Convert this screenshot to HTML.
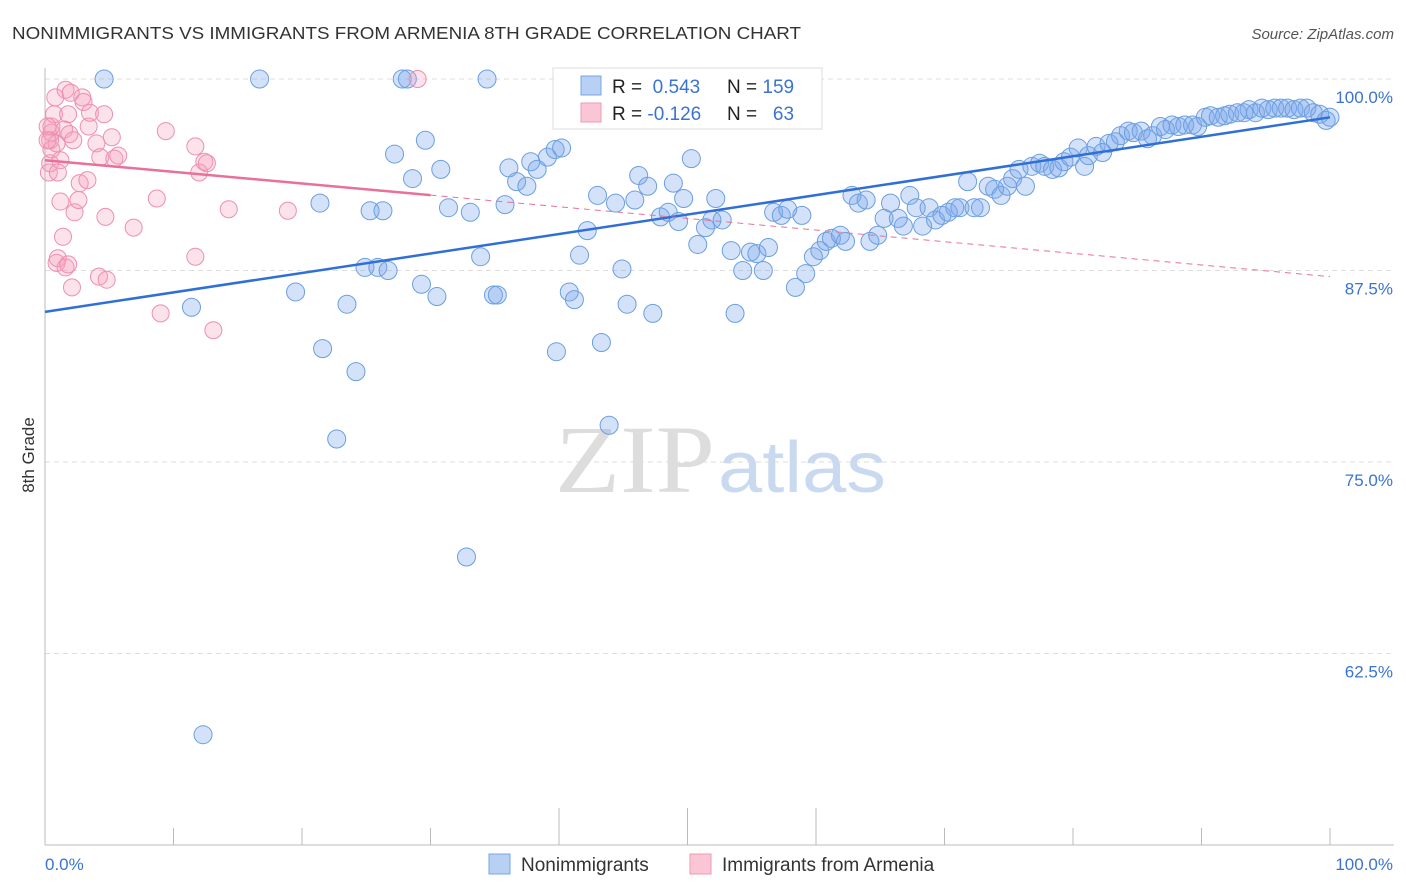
<!DOCTYPE html>
<html><head><meta charset="utf-8"><style>
body{margin:0;background:#fff;font-family:"Liberation Sans",sans-serif}
svg{display:block}
</style></head><body>
<svg id="c" width="1406" height="892">
<text x="12" y="39" font-size="17.5" fill="#333" textLength="789" lengthAdjust="spacingAndGlyphs">NONIMMIGRANTS VS IMMIGRANTS FROM ARMENIA 8TH GRADE CORRELATION CHART</text>
<text x="1394" y="39" font-size="15" fill="#555" font-style="italic" text-anchor="end">Source: ZipAtlas.com</text>
<g><text x="555" y="492" font-size="96" font-family="Liberation Serif,serif" fill="#ddd" textLength="160" lengthAdjust="spacingAndGlyphs">ZIP</text><text x="718" y="492" font-size="72" fill="#c9daf0" textLength="168" lengthAdjust="spacingAndGlyphs">atlas</text></g>
<g id="grid"></g><g id="axes"></g><g id="pts"></g><g id="trend"></g>
<text transform="translate(34,455) rotate(-90)" font-size="17" fill="#333" text-anchor="middle">8th Grade</text>
<g>
<rect x="553" y="68" width="269" height="61" fill="#fff" stroke="#ddd"/>
<rect x="581" y="76" width="20" height="19" fill="#b8d0f3" stroke="#7aa6e6"/>
<rect x="581" y="103" width="20" height="19" fill="#fac6d6" stroke="#ee9ab4"/>
<text x="612" y="93" font-size="19" fill="#222">R = <tspan fill="#3a74d0">&#160;0.543</tspan><tspan x="727">N = </tspan><tspan fill="#3a74d0">159</tspan></text>
<text x="612" y="120" font-size="19" fill="#222">R = <tspan fill="#3a74d0">-0.126</tspan><tspan x="727">N = </tspan><tspan fill="#3a74d0">&#160;&#160;63</tspan></text>
</g>
<g>
<rect x="489" y="854" width="21" height="20" fill="#b8d0f3" stroke="#7aa6e6"/>
<text x="521" y="871" font-size="19" fill="#333">Nonimmigrants</text>
<rect x="690" y="854" width="21" height="20" fill="#fac6d6" stroke="#ee9ab4"/>
<text x="722" y="871" font-size="19" fill="#333">Immigrants from Armenia</text>
</g>
</svg>
<script>
const yTicks=[100,87.5,75,62.5];
const yTickLabels=["100.0%","87.5%","75.0%","62.5%"];
const blueX=[4.6,16.7,27.8,28.2,34.4,12.3,32.8,22.7,43.9,24.2,21.6,39.8,43.3,11.4,19.5,23.5,29.3,30.5,34.9,35.2,40.8,41.2,45.3,47.3,53.7,24.9,25.9,26.7,33.9,41.6,44.9,21.4,25.3,26.3,31.4,33.1,35.8,28.6,27.2,29.6,30.8,36.1,36.7,37.5,37.8,38.3,39.1,39.7,40.2,43.0,42.2,44.4,45.9,46.2,46.9,47.9,48.5,48.9,49.3,49.7,50.3,50.8,51.4,51.9,52.2,52.7,53.4,54.3,54.9,55.4,55.9,56.3,56.7,57.3,57.8,58.4,58.9,59.2,59.8,60.3,60.8,61.2,61.9,62.3,62.8,63.3,63.9,64.2,64.8,65.3,65.8,66.4,66.8,67.3,67.8,68.3,68.8,69.3,69.8,70.3,70.8,71.2,71.8,72.3,72.8,73.4,73.9,74.4,74.9,75.3,75.8,76.3,76.8,77.4,77.8,78.4,78.9,79.3,79.8,80.4,80.9,81.2,81.8,82.3,82.8,83.3,83.7,84.3,84.7,85.3,85.8,86.2,86.8,87.2,87.7,88.2,88.7,89.3,89.7,90.3,90.7,91.3,91.8,92.2,92.8,93.3,93.7,94.2,94.7,95.2,95.7,96.2,96.7,97.2,97.7,98.2,98.7,99.2,99.7,100];
const blueY=[100,100,100,100,100,57.2,68.8,76.5,77.4,80.9,82.4,82.2,82.8,85.1,86.1,85.3,86.6,85.8,85.9,85.9,86.1,85.6,85.3,84.7,84.7,87.7,87.7,87.5,88.4,88.5,87.6,91.9,91.4,91.4,91.6,91.3,91.8,93.5,95.1,96.0,94.1,94.2,93.3,93.0,94.6,94.1,94.9,95.4,95.5,92.4,90.1,91.9,92.1,93.7,93.0,91.0,91.3,93.2,90.7,92.2,94.8,89.2,90.3,90.8,92.2,90.8,88.8,87.5,88.7,88.6,87.5,89.0,91.3,91.1,91.5,86.4,91.1,87.3,88.4,88.8,89.4,89.6,89.8,89.4,92.4,91.9,92.1,89.4,89.8,90.9,91.9,90.9,90.4,92.4,91.6,90.4,91.6,90.8,91.1,91.3,91.6,91.6,93.3,91.6,91.6,93.0,92.8,92.4,93.0,93.5,94.1,93.0,94.3,94.5,94.3,94.1,94.2,94.6,94.9,95.5,94.3,95.0,95.6,95.2,95.8,95.9,96.3,96.6,96.5,96.6,96.1,96.3,96.9,96.7,97.0,96.9,97.0,97.0,96.9,97.5,97.6,97.5,97.6,97.7,97.8,97.8,98.0,97.8,98.1,98.0,98.1,98.1,98.1,98.0,98.1,98.1,97.8,97.7,97.3,97.5];
const pinkX=[0.3,0.4,0.5,0.4,0.5,0.5,0.8,0.7,0.9,1.2,1.0,1.2,0.9,1.0,1.4,1.6,2.1,1.8,1.6,2.0,2.9,3.0,1.8,1.5,1.9,2.2,2.3,2.6,2.7,3.3,3.4,3.5,4.6,4.0,4.3,5.2,5.4,5.7,4.7,4.2,4.8,6.9,8.7,9.4,9.0,11.7,12.0,12.4,12.6,11.7,13.1,14.3,18.9,29.0,0.2,0.2];
const pinkY=[93.9,94.5,95.4,96.0,96.5,96.9,98.8,97.7,95.8,94.7,93.9,92.0,88.0,88.3,89.7,87.7,86.4,87.9,99.3,99.1,98.8,98.5,97.7,96.7,96.4,96.0,91.3,92.1,93.2,93.4,96.9,97.8,97.7,95.8,94.9,96.2,94.8,95.0,91.0,87.1,86.9,90.3,92.2,96.6,84.7,95.6,93.9,94.6,94.5,88.4,83.6,91.5,91.4,100,96.9,96.0];
const blueTrend=[84.8,97.5];
const pinkTrend=[94.7,87.1];
const NS="http://www.w3.org/2000/svg";
const X=v=>45+v*12.85, Y=v=>79+(100-v)*15.32;
function mk(t,a,p){const e=document.createElementNS(NS,t);for(const k in a)e.setAttribute(k,a[k]);p.appendChild(e);return e;}
const grid=document.getElementById('grid'),axes=document.getElementById('axes'),pts=document.getElementById('pts'),tr=document.getElementById('trend');
yTicks.forEach((t,i)=>{
 const l=mk('line',{x1:45,x2:1394,y1:Y(t),y2:Y(t),stroke:'#ddd','stroke-dasharray':'5,4'},grid);
 
 
 const tx=mk('text',{x:1393,y:Y(t)+24,'font-size':17,fill:'#3a74d0','text-anchor':'end'},axes);
 tx.textContent=yTickLabels[i];
 
 
});
mk('line',{x1:45,x2:45,y1:68,y2:845,stroke:'#bbb'},axes);
mk('line',{x1:45,x2:1394,y1:845,y2:845,stroke:'#bbb'},axes);
for(let i=0;i<=10;i++){const l=mk('line',{x1:X(i*10),x2:X(i*10),y1:845,y2:(i>=4&&i<=6)?808:828,stroke:'#bbb'},axes);
 
 }
const xl=mk('text',{x:45,y:870,'font-size':17,fill:'#3a74d0'},axes);xl.textContent='0.0%';


const xr=mk('text',{x:1393,y:870,'font-size':17,fill:'#3a74d0','text-anchor':'end'},axes);xr.textContent='100.0%';


blueX.forEach((v,i)=>{const c=mk('circle',{cx:X(v),cy:Y(blueY[i]),r:9,fill:'rgba(120,165,235,0.32)',stroke:'#6a9fe0','stroke-width':1},pts);
 
 });
pinkX.forEach((v,i)=>{const c=mk('circle',{cx:X(v),cy:Y(pinkY[i]),r:8.5,fill:'rgba(245,160,190,0.3)',stroke:'#ee8fb0','stroke-width':1},pts);
 
 });
const bt=mk('line',{x1:X(0),y1:Y(blueTrend[0]),x2:X(100),y2:Y(blueTrend[1]),stroke:'#2f6fd6','stroke-width':2.5},tr);


const pv=x=>pinkTrend[0]+(pinkTrend[1]-pinkTrend[0])*x/100;
const pt=mk('line',{x1:X(0),y1:Y(pv(0)),x2:X(30),y2:Y(pv(30)),stroke:'#e8709a','stroke-width':2.5},tr);


const pd=mk('line',{x1:X(30),y1:Y(pv(30)),x2:X(100),y2:Y(pv(100)),stroke:'#e8709a','stroke-width':1,'stroke-dasharray':'6,5'},tr);


</script>
</body></html>
